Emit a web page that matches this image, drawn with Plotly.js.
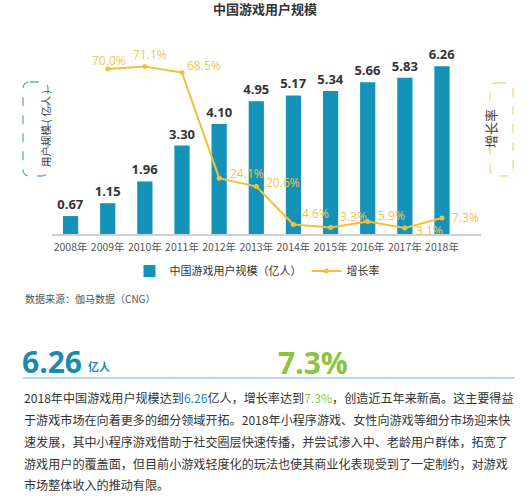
<!DOCTYPE html>
<html>
<head>
<meta charset="utf-8">
<script src="https://cdn.plot.ly/plotly-3.0.1.min.js"></script>
<style>html,body{margin:0;padding:0;background:#fff;}#chart{width:532px;height:500px;}</style>
</head>
<body>
<div id="chart"></div>
<script>
// ---- data ----
const years = ["2008年","2009年","2010年","2011年","2012年","2013年","2014年","2015年","2016年","2017年","2018年"];
const users = [0.67,1.15,1.96,3.30,4.10,4.95,5.17,5.34,5.66,5.83,6.26];
const rateYears = ["2009年","2010年","2011年","2012年","2013年","2014年","2015年","2016年","2017年","2018年"];
const growth = [70.0,71.1,68.5,24.1,20.6,4.6,3.3,5.9,3.1,7.3];
const barName = "中国游戏用户规模（亿人）";
const lineName = "增长率";
const leftBoxText = "用户规模 ( 亿人 )";
const chartTitle = "中国游戏用户规模";
const sourceNote = "数据来源：伽马数据（CNG）";
const bigUsers = "6.26";
const bigRate = "7.3%";
const paragraph = [
  "2018年中国游戏用户规模达到{U}亿人，增长率达到{R}，创造近五年来新高。这主要得益",
  "于游戏市场在向着更多的细分领域开拓。2018年小程序游戏、女性向游戏等细分市场迎来快",
  "速发展，其中小程序游戏借助于社交圈层快速传播，并尝试渗入中、老龄用户群体，拓宽了",
  "游戏用户的覆盖面，但目前小游戏轻度化的玩法也使其商业化表现受到了一定制约，对游戏",
  "市场整体收入的推动有限。"
];

// ---- styles / positions ----
const FONT = "Open Sans, Noto Sans CJK SC, sans-serif";
const CJK = "Noto Sans CJK SC, Open Sans, sans-serif";
const barColor = "#1592b8";
const lineColor = "#f1c13c";
const labelColor = "#f3c44e";
const teal = "#1a8bb0";
const green = "#8cc43f";
const W = 532, H = 500;
const PL = 52, PR = 481, PT = 46, PB = 234;
const px = v => (v - PL) / (PR - PL);
const py = v => (PB - v) / (PB - PT);
const lblDX = [1, 5, 3, 9, 8, 7, 7, 8, 9, 8];
const lblDY = [9, 12, 7, 5, 4, 11, 11, 6, -2, 1];
const lblAnchor = ["center","center","left","left","left","left","left","left","left","left"];

function roundRect(x0, y0, x1, y1, r) {
  const X = v => px(v).toFixed(5), Y = v => py(v).toFixed(5);
  return `M${X(x0+r)},${Y(y0)} L${X(x1-r)},${Y(y0)} Q${X(x1)},${Y(y0)} ${X(x1)},${Y(y0+r)} ` +
         `L${X(x1)},${Y(y1-r)} Q${X(x1)},${Y(y1)} ${X(x1-r)},${Y(y1)} L${X(x0+r)},${Y(y1)} ` +
         `Q${X(x0)},${Y(y1)} ${X(x0)},${Y(y1-r)} L${X(x0)},${Y(y0+r)} Q${X(x0)},${Y(y0)} ${X(x0+r)},${Y(y0)} Z`;
}

const traces = [
  {
    type: "bar", x: years, y: users, name: barName,
    marker: {color: barColor},
    text: users.map(v => v.toFixed(2)), textposition: "outside", constraintext: "none",
    textfont: {family: FONT, size: 13, color: "#333", weight: "bold"},
    cliponaxis: false, hoverinfo: "none"
  },
  {
    type: "scatter", mode: "lines+markers", x: rateYears, y: growth, name: lineName, yaxis: "y2",
    line: {color: lineColor, width: 2}, marker: {color: lineColor, size: 5},
    cliponaxis: false, hoverinfo: "none"
  }
];

const annotations = [];
growth.forEach((g, i) => {
  annotations.push({
    x: rateYears[i], y: g, xref: "x", yref: "y2",
    text: g.toFixed(1) + "%", showarrow: false,
    xanchor: lblAnchor[i], yanchor: "middle",
    xshift: lblDX[i], yshift: lblDY[i],
    font: {family: FONT, size: 12, color: labelColor}
  });
});
annotations.push({
  x: px(35.5), y: py(129), xref: "paper", yref: "paper", showarrow: false,
  text: leftBoxText, textangle: -90,
  font: {family: CJK, size: 10.5, color: "#444"}
});
annotations.push({
  x: px(501.5), y: py(129), xref: "paper", yref: "paper", showarrow: false,
  text: lineName, textangle: -90,
  font: {family: CJK, size: 13, color: "#444"}
});
annotations.push({
  x: px(23), y: py(298), xref: "paper", yref: "paper", showarrow: false,
  xanchor: "left", yanchor: "middle", text: sourceNote,
  font: {family: CJK, size: 10, color: "#555"}
});
annotations.push({
  x: px(20), y: py(361), xref: "paper", yref: "paper", showarrow: false,
  xanchor: "left", yanchor: "middle",
  text: "<b>" + bigUsers + "</b>",
  font: {family: FONT, size: 30, color: teal}
});
annotations.push({
  x: px(86), y: py(366), xref: "paper", yref: "paper", showarrow: false,
  xanchor: "left", yanchor: "middle",
  text: "<b>亿人</b>",
  font: {family: CJK, size: 11, color: teal}
});
annotations.push({
  x: px(276), y: py(362), xref: "paper", yref: "paper", showarrow: false,
  xanchor: "left", yanchor: "middle",
  text: "<b>" + bigRate + "</b>",
  font: {family: FONT, size: 30, color: green}
});
const lineY = [397, 419, 441, 463, 485];
paragraph.forEach((t, i) => {
  const txt = t.replace("{U}", `<span style="color:${teal}">${bigUsers}</span>`)
               .replace("{R}", `<span style="color:${green}">${bigRate}</span>`);
  annotations.push({
    x: px(22), y: py(lineY[i]), xref: "paper", yref: "paper", showarrow: false,
    xanchor: "left", yanchor: "middle", text: txt,
    font: {family: CJK, size: 12.1, color: "#333"}
  });
});

const shapes = [
  {type: "path", xref: "paper", yref: "paper", path: roundRect(23, 82, 48, 176, 7),
   line: {color: "#5aaed2", width: 1.3, dash: "dash"}},
  {type: "path", xref: "paper", yref: "paper", path: roundRect(490, 83, 513, 176, 7),
   line: {color: "#f5d592", width: 1.3, dash: "dash"}},
  {type: "line", xref: "paper", yref: "paper", x0: px(23), x1: px(515), y0: py(378), y1: py(378),
   line: {color: "#6ab6d6", width: 1}}
];

const layout = {
  width: W, height: H,
  margin: {l: PL, r: W - PR, t: PT, b: H - PB},
  paper_bgcolor: "#fff", plot_bgcolor: "#fff",
  title: {text: "<b>" + chartTitle + "</b>", xref: "container", yref: "container",
          x: 265 / W, y: 1 - 9 / H, xanchor: "center", yanchor: "middle",
          font: {family: CJK, size: 13, color: "#333"}},
  showlegend: true,
  legend: {orientation: "h", x: px(257), y: py(271), xanchor: "center", yanchor: "middle",
           font: {family: CJK, size: 11, color: "#333"}, itemwidth: 30, tracegroupgap: 0},
  bargap: 0.59,
  xaxis: {type: "category", showline: true, linecolor: "#d0d0d0", linewidth: 1.5,
          ticks: "", showgrid: false, zeroline: false, tickangle: 0, ticklabelstandoff: 3,
          tickfont: {family: CJK, size: 10.5, color: "#555"}},
  yaxis: {range: [0, 7.015], visible: false, showgrid: false, zeroline: false},
  yaxis2: {range: [0.6, 79.7], overlaying: "y", side: "right", visible: false, showgrid: false, zeroline: false},
  annotations: annotations,
  shapes: shapes
};

Plotly.newPlot("chart", traces, layout, {displayModeBar: false, staticPlot: true});
</script>
</body>
</html>
